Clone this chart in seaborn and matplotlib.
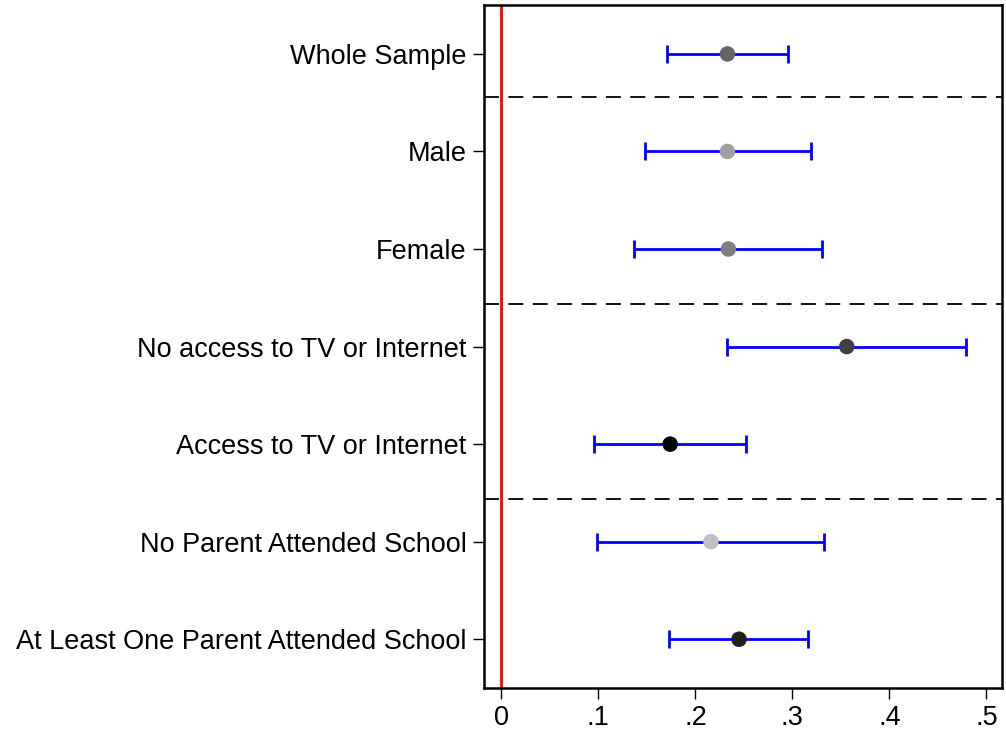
import numpy as np
import pandas as pd
import matplotlib
matplotlib.use("Agg")
import matplotlib.pyplot as plt
import seaborn as sns

labels = ["Whole Sample", "Male", "Female", "No access to TV or Internet",
          "Access to TV or Internet", "No Parent Attended School",
          "At Least One Parent Attended School"]
estimates = [0.233, 0.233, 0.234, 0.356, 0.174, 0.216, 0.245]
ci_low = [0.171, 0.148, 0.137, 0.233, 0.096, 0.099, 0.173]
ci_high = [0.295, 0.319, 0.331, 0.479, 0.252, 0.333, 0.316]
point_colors = ["#656565", "#a0a0a0", "#7f7f7f", "#404040", "#000000", "#c0c0c0", "#202020"]
separators = [0.44, 2.56, 4.56]
xticks = [0, 0.1, 0.2, 0.3, 0.4, 0.5]
xticklabels = ["0", ".1", ".2", ".3", ".4", ".5"]

sns.set_theme(style="white")
plt.rcParams["font.family"] = ["Liberation Sans", "DejaVu Sans"]
plt.rcParams["text.color"] = "black"
plt.rcParams["xtick.color"] = "black"
plt.rcParams["ytick.color"] = "black"

df = pd.DataFrame({"label": labels, "est": estimates, "lo": ci_low, "hi": ci_high,
                   "pos": np.arange(len(labels))})

fig = plt.figure(figsize=(10.06, 7.33), dpi=100)
ax = fig.add_axes([0.481, 0.0614, 0.515, 0.9316])

for s in separators:
    ax.axhline(s, color="black", lw=1.3, ls=(0, (8.3, 5.2)), zorder=1)
ax.axvline(0, color="red", lw=2, zorder=2)

ax.errorbar(df["est"], df["pos"],
            xerr=[df["est"] - df["lo"], df["hi"] - df["est"]],
            fmt="none", ecolor="blue", elinewidth=2, capsize=6.5, capthick=2, zorder=3)

sns.scatterplot(data=df, x="est", y="pos", hue="label", palette=point_colors,
                s=125, edgecolor="none", legend=False, ax=ax, zorder=4)

ax.set_xlim(-0.018, 0.516)
ax.set_ylim(6.5, -0.5)
ax.set_yticks(df["pos"])
ax.set_yticklabels(labels, fontsize=19.5, color="black")
ax.set_xticks(xticks)
ax.set_xticklabels(xticklabels, fontsize=19.5, color="black")
ax.set_xlabel("")
ax.set_ylabel("")
ax.tick_params(axis="y", which="both", left=True, length=8, width=1.0, color="black", pad=4.5)
ax.tick_params(axis="x", which="both", bottom=True, length=8, width=1.0, color="black", pad=4.5)
for sp in ax.spines.values():
    sp.set_color("black")
    sp.set_linewidth(1.8)

fig.savefig("out.png", dpi=100)
